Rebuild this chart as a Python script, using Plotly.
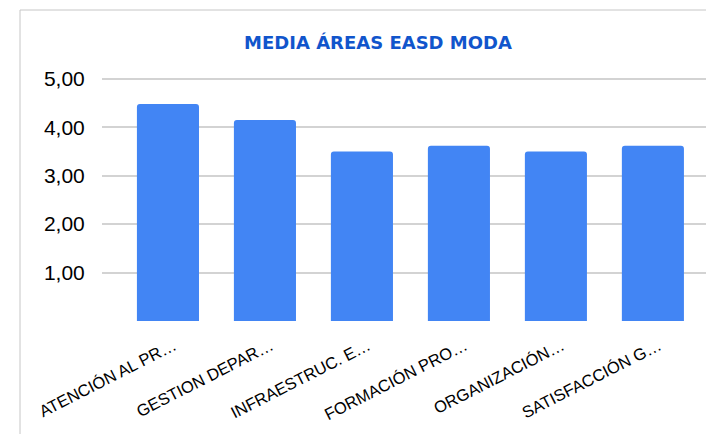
import plotly.graph_objects as go

# Data
categories = [
    "ATENCIÓN AL PR…",
    "GESTION DEPAR…",
    "INFRAESTRUC. E…",
    "FORMACIÓN PRO…",
    "ORGANIZACIÓN…",
    "SATISFACCIÓN G…",
]
medias = [4.48, 4.15, 3.50, 3.62, 3.50, 3.62]

y_ticks = [1, 2, 3, 4, 5]
y_ticktext = ["1,00", "2,00", "3,00", "4,00", "5,00"]

W, H = 714, 434
# the page body adds an 8px margin, so figure coords = screen coords - 8
OFF = 8
LEFT, RIGHT, TOP, BOTTOM = 102 - OFF, 714 - OFF, 74 - OFF, 321 - OFF


def px_x(x):
    return (x - OFF - LEFT) / (RIGHT - LEFT)


def px_y(y):
    return (BOTTOM - (y - OFF)) / (BOTTOM - TOP)


fig = go.Figure()
fig.add_trace(go.Bar(
    x=categories,
    y=medias,
    marker=dict(color="#4285f4", cornerradius=3, line=dict(width=0)),
    hoverinfo="x+y",
))

fig.update_layout(
    width=W,
    height=H,
    margin=dict(l=LEFT, r=W - RIGHT, t=TOP, b=H - BOTTOM),
    paper_bgcolor="white",
    plot_bgcolor="white",
    bargap=0.36,
    showlegend=False,
    font=dict(family="Liberation Sans, Arial, sans-serif", color="#000000"),
    title=dict(
        text="<b>MEDIA ÁREAS EASD MODA</b>",
        x=(378 - OFF) / W, xanchor="center",
        y=1 - (43 - OFF) / H, yanchor="middle",
        font=dict(family="DejaVu Sans, Verdana, sans-serif", size=18, color="#1155cc"),
    ),
    shapes=[
        dict(type="line", xref="paper", yref="paper",
             x0=px_x(20), x1=px_x(20), y0=px_y(10), y1=px_y(H + OFF),
             line=dict(color="#c6c6c6", width=1)),
        dict(type="line", xref="paper", yref="paper",
             x0=px_x(20), x1=px_x(W + OFF), y0=px_y(10), y1=px_y(10),
             line=dict(color="#c6c6c6", width=1)),
    ],
)

fig.update_xaxes(
    range=[-0.68, 5.63],
    tickangle=-27,
    tickfont=dict(size=16.5, color="#000000"),
    ticklabelshift=6,
    showgrid=False,
    showline=False,
    zeroline=False,
    ticks="outside",
    ticklen=8,
    tickcolor="rgba(0,0,0,0)",
)

fig.update_yaxes(
    range=[0, 5.1],
    tickvals=y_ticks,
    ticktext=y_ticktext,
    tickfont=dict(size=21, color="#000000"),
    showgrid=True,
    gridcolor="#d3d3d3",
    gridwidth=1.5,
    zeroline=False,
    showline=False,
    ticks="outside",
    ticklen=12,
    tickcolor="rgba(0,0,0,0)",
)

fig.write_html("out.html")
